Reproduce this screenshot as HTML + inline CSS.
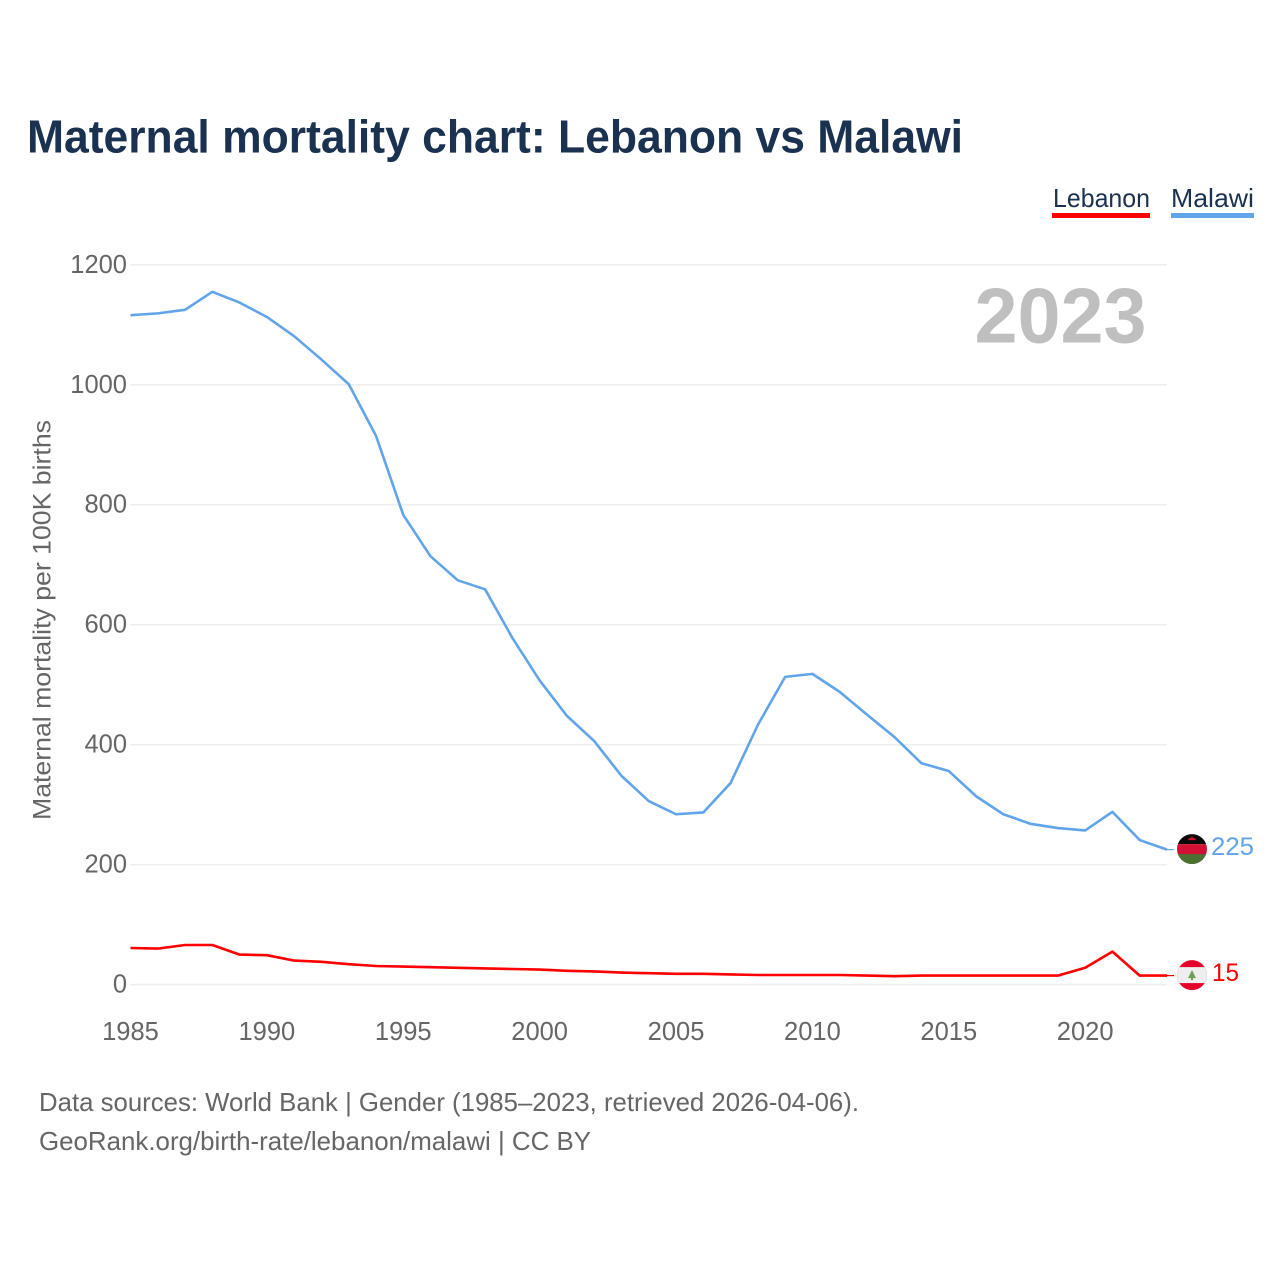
<!DOCTYPE html>
<html lang="en">
<head>
<meta charset="utf-8">
<title>Maternal mortality chart: Lebanon vs Malawi</title>
<style>
  html, body { margin: 0; padding: 0; background: #fff; }
  svg { display: block; }
  text { font-family: "Liberation Sans", sans-serif; }
</style>
</head>
<body>
<svg id="chart" xmlns="http://www.w3.org/2000/svg" width="1280" height="1280" viewBox="0 0 1280 1280">
  <defs>
    <clipPath id="flag-clip"><circle cx="0" cy="0" r="15"></circle></clipPath>
  </defs>
  <rect width="1280" height="1280" fill="#ffffff"></rect>
  <text x="27" y="152.5" font-size="46" font-weight="700" fill="#1a3150" textLength="936" lengthAdjust="spacingAndGlyphs">Maternal mortality chart: Lebanon vs Malawi</text>

  <text x="1053" y="207" font-size="26" fill="#1a3150" textLength="97" lengthAdjust="spacingAndGlyphs">Lebanon</text>
  <rect x="1052" y="213" width="98" height="5" fill="#ff0000"></rect>
  <text x="1171" y="207" font-size="26" fill="#1a3150" textLength="83" lengthAdjust="spacingAndGlyphs">Malawi</text>
  <rect x="1171" y="213" width="83" height="5" fill="#61a4ea"></rect>

  <g id="grid"></g>
  <g id="y-ticks"></g>
  <g id="x-ticks"></g>

  <text transform="translate(50.5 820) rotate(-90)" x="0" y="0" font-size="25" fill="#666666" textLength="400" lengthAdjust="spacingAndGlyphs">Maternal mortality per 100K births</text>

  <text x="974.5" y="342.5" font-size="78" font-weight="700" fill="#bfbfbf" textLength="172" lengthAdjust="spacingAndGlyphs">2023</text>

  <g id="series"></g>

  <g id="flag-malawi">
    <g clip-path="url(#flag-clip)">
      <rect x="-16" y="-16" width="32" height="11" fill="#0a0a0a"></rect>
      <rect x="-16" y="-5" width="32" height="11" fill="#d21034"></rect>
      <rect x="-16" y="5" width="32" height="11" fill="#4c7032"></rect>
      <path d="M-4 -9 L-3 -11 L-1 -11 L0 -13 L1 -11 L3 -11 L4 -9 Z" fill="#d21034"></path>
    </g>
  </g>
  <g id="flag-lebanon">
    <g clip-path="url(#flag-clip)">
      <rect x="-16" y="-16" width="32" height="32" fill="#e4002b"></rect>
      <rect x="-16" y="-8" width="32" height="16" fill="#eeeeee"></rect>
      <path d="M0 -5 L4 3 L1 3 L1 5 L-1 5 L-1 3 L-4 3 Z" fill="#6f9e55"></path>
    </g>
  </g>

  <text id="value-malawi" x="1211" font-size="25" fill="#61a4ea" textLength="43" lengthAdjust="spacingAndGlyphs"></text>
  <text id="value-lebanon" x="1212" font-size="25" fill="#ff0000" textLength="27" lengthAdjust="spacingAndGlyphs"></text>

  <text x="39" y="1111" font-size="26" fill="#666666" textLength="820" lengthAdjust="spacingAndGlyphs">Data sources: World Bank | Gender (1985–2023, retrieved 2026-04-06).</text>
  <text x="39" y="1150" font-size="26" fill="#666666" textLength="552" lengthAdjust="spacingAndGlyphs">GeoRank.org/birth-rate/lebanon/malawi | CC BY</text>
</svg>
<script>
const years = [1985,1986,1987,1988,1989,1990,1991,1992,1993,1994,1995,1996,1997,1998,1999,2000,2001,2002,2003,2004,2005,2006,2007,2008,2009,2010,2011,2012,2013,2014,2015,2016,2017,2018,2019,2020,2021,2022,2023];
const malawiValues = [1116,1119,1125,1155,1137,1113,1081,1042,1001,915,783,714,674,659,578,507,448,406,348,306,284,287,336,433,513,518,488,450,413,369,356,314,284,268,261,257,288,241,225];
const lebanonValues = [61,60,66,66,50,49,40,38,34,31,30,29,28,27,26,25,23,22,20,19,18,18,17,16,16,16,16,15,14,15,15,15,15,15,15,28,55,15,15];
const yTickValues = [0,200,400,600,800,1000,1200];
const xTickValues = [1985,1990,1995,2000,2005,2010,2015,2020];

const SVG_NS = 'http://www.w3.org/2000/svg';
const plot = { left: 130.5, right: 1167, top: 264.8, bottom: 984.6 };
const xDomain = [years[0], years[years.length - 1]];
const yDomain = [0, 1200];

function xScale(v) {
  return plot.left + (v - xDomain[0]) / (xDomain[1] - xDomain[0]) * (plot.right - plot.left);
}
function yScale(v) {
  return plot.bottom - (v - yDomain[0]) / (yDomain[1] - yDomain[0]) * (plot.bottom - plot.top);
}
function make(tag, attrs) {
  const el = document.createElementNS(SVG_NS, tag);
  for (const k in attrs) el.setAttribute(k, attrs[k]);
  return el;
}

const gridGroup = document.getElementById('grid');
const yGroup = document.getElementById('y-ticks');
yTickValues.forEach(function (v) {
  const line = make('line', { x1: plot.left, x2: plot.right, y1: yScale(v), y2: yScale(v), stroke: '#eeeeee', 'stroke-width': 1.6 });
  
  
  gridGroup.appendChild(line);
  const label = make('text', { x: 127, y: yScale(v) + 8, 'text-anchor': 'end', 'font-size': 25.5, fill: '#666666' });
  
  
  label.textContent = String(v);
  yGroup.appendChild(label);
});

const xGroup = document.getElementById('x-ticks');
xTickValues.forEach(function (v) {
  const label = make('text', { x: xScale(v), y: 1040, 'text-anchor': 'middle', 'font-size': 25.5, fill: '#666666' });
  
  
  label.textContent = String(v);
  xGroup.appendChild(label);
});

function pointsFor(values) {
  return values.map(function (v, i) {
    return xScale(years[i]).toFixed(2) + ',' + yScale(v).toFixed(2);
  }).join(' ');
}

const seriesGroup = document.getElementById('series');

const malawiLine = make('polyline', { points: pointsFor(malawiValues), fill: 'none', stroke: '#61a4ea', 'stroke-width': 2.6, 'stroke-linejoin': 'round' });


seriesGroup.appendChild(malawiLine);

const lebanonLine = make('polyline', { points: pointsFor(lebanonValues), fill: 'none', stroke: '#ff0000', 'stroke-width': 2.6, 'stroke-linejoin': 'round' });


seriesGroup.appendChild(lebanonLine);

const malawiEnd = malawiValues[malawiValues.length - 1];
const lebanonEnd = lebanonValues[lebanonValues.length - 1];

const malawiTail = make('line', { x1: plot.right, x2: 1174, y1: yScale(malawiEnd), y2: yScale(malawiEnd), stroke: '#61a4ea', 'stroke-width': 1.2 });


seriesGroup.appendChild(malawiTail);

const lebanonTail = make('line', { x1: plot.right, x2: 1174, y1: yScale(lebanonEnd), y2: yScale(lebanonEnd), stroke: '#ff0000', 'stroke-width': 1.2 });


seriesGroup.appendChild(lebanonTail);

document.getElementById('flag-malawi').setAttribute('transform', 'translate(1192 ' + (yScale(malawiEnd) - 0.5) + ')');
document.getElementById('flag-lebanon').setAttribute('transform', 'translate(1192 ' + (yScale(lebanonEnd) - 0.5) + ')');

const malawiLabel = document.getElementById('value-malawi');
malawiLabel.setAttribute('y', yScale(malawiEnd) + 5.5);
malawiLabel.textContent = String(malawiEnd);

const lebanonLabel = document.getElementById('value-lebanon');
lebanonLabel.setAttribute('y', yScale(lebanonEnd) + 5.5);
lebanonLabel.textContent = String(lebanonEnd);
</script>
</body>
</html>
